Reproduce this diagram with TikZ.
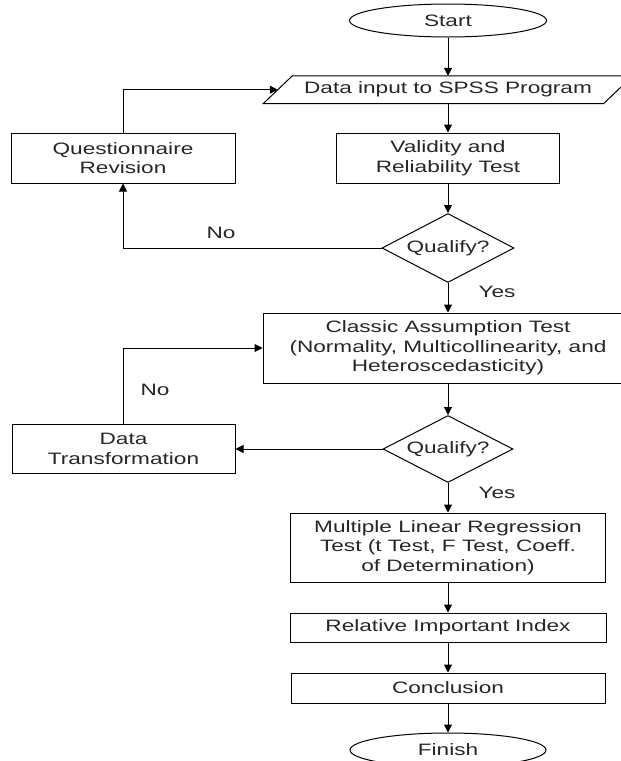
\documentclass[tikz,border=0pt]{standalone}
\usepackage{fontspec}
\setmainfont{Liberation Sans}[FakeStretch=1.37]
\usetikzlibrary{shapes.geometric,arrows.meta,calc}
\begin{document}
\begin{tikzpicture}[x=1pt,y=-1pt,
  every node/.style={font=\fontsize{16.5}{19.5}\selectfont, inner sep=0pt, text=black!85},
  box/.style={draw, line width=1pt, align=center},
  term/.style={draw, ellipse, line width=1pt},
  dec/.style={draw, diamond, aspect=1.9, line width=1pt},
  conn/.style={line width=1pt, -{Triangle[length=8pt,width=8pt]}}]
\useasboundingbox (0,0) rectangle (621,761);
% nodes
\node[term, minimum width=197pt, minimum height=33pt] (start) at (448,20.5) {Start};
\node[minimum width=369pt, minimum height=27.3pt] (input) at (448,89.7) {Data input to SPSS Program};
\draw[line width=1pt] (input.south west) -- ($(input.south east)+(-29,0)$) -- (input.north east) -- ($(input.north west)+(29,0)$) -- cycle;
\coordinate (inL) at ($(input.west)+(14.5,0)$);
\node[box, minimum width=224pt, minimum height=50pt] (qr) at (123,158) {Questionnaire\\Revision};
\node[box, minimum width=223pt, minimum height=50pt] (val) at (448,158) {Validity and\\Reliability Test};
\node[dec, minimum width=132pt, minimum height=69pt] (q1) at (448,248) {Qualify?};
\node (no1) at (221,233) {No};
\node (yes1) at (497,292) {Yes};
\node[box, minimum width=370pt, minimum height=70pt] (cls) at (448,348) {Classic Assumption Test\\(Normality, Multicollinearity, and\\Heteroscedasticity)};
\node[dec, minimum width=130pt, minimum height=67pt] (q2) at (448,449) {Qualify?};
\node[box, minimum width=223pt, minimum height=49pt] (dt) at (123.5,449) {Data\\Transformation};
\node (no2) at (155,390) {No};
\node (yes2) at (497,493) {Yes};
\node[box, minimum width=315pt, minimum height=69pt] (mlr) at (448,547.5) {Multiple Linear Regression\\Test (t Test, F Test, Coeff.\\of Determination)};
\node[box, minimum width=316pt, minimum height=29pt] (rii) at (448,627.5) {Relative Important Index};
\node[box, minimum width=314pt, minimum height=30pt] (con) at (448,688) {Conclusion};
\node[term, minimum width=196pt, minimum height=34pt] (fin) at (448,750) {Finish};
% connectors
\draw[conn] (start.south) -- (input.north);
\draw[conn] (input.south) -- (val.north);
\draw[conn] (val.south) -- (q1.north);
\draw[conn] (q1.west) -| (qr.south);
\draw[conn] (qr.north) |- (inL);
\draw[conn] (q1.south) -- (cls.north);
\draw[conn] (cls.south) -- (q2.north);
\draw[conn] (q2.west) -- (dt.east);
\draw[conn] (dt.north) |- (cls.west);
\draw[conn] (q2.south) -- (mlr.north);
\draw[conn] (mlr.south) -- (rii.north);
\draw[conn] (rii.south) -- (con.north);
\draw[conn] (con.south) -- (fin.north);
\end{tikzpicture}
\end{document}
